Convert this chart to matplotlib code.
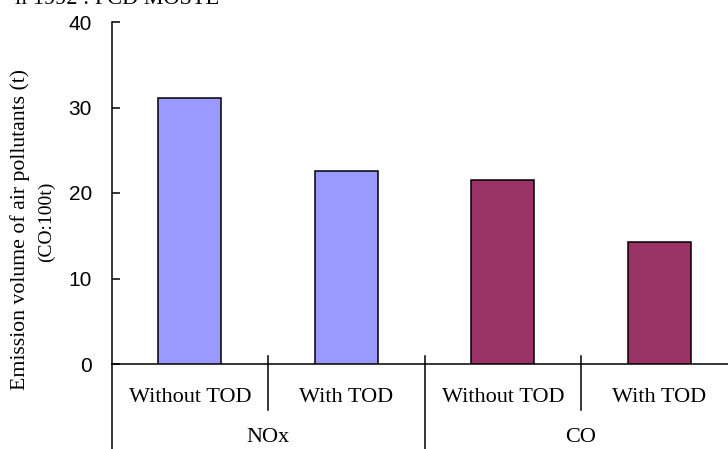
import matplotlib
matplotlib.use("Agg")
import matplotlib.pyplot as plt
import matplotlib.transforms as mtransforms

# data
groups = ["NOx", "CO"]
scenarios = ["Without TOD", "With TOD", "Without TOD", "With TOD"]
emissions = [31.1, 22.6, 21.5, 14.3]
bar_colors = ["#9999FF", "#9999FF", "#993366", "#993366"]
y_ticks = [0, 10, 20, 30, 40]

W, H = 728, 449
fig = plt.figure(figsize=(W / 100, H / 100), dpi=100)
fig.patch.set_facecolor("white")

# axes box in pixels (left spine, x axis, top of y range); the right end runs past the image
left_px, right_px, base_px, top_px = 111.5, 737.5, 364, 22
ax = fig.add_axes([left_px / W, (H - base_px) / H,
                   (right_px - left_px) / W, (base_px - top_px) / H])

x = list(range(len(scenarios)))
ax.bar(x, emissions, width=0.4, color=bar_colors, edgecolor="black", linewidth=1.1, zorder=3)

ax.set_xlim(-0.5, len(scenarios) - 0.5)
ax.set_ylim(0, 40)
ax.set_yticks(y_ticks)
ax.set_yticklabels([str(t) for t in y_ticks], fontfamily="Liberation Sans", fontsize=15)
ax.tick_params(axis="y", direction="in", length=6, width=1.1, pad=14)
ax.set_xticks([])

for s in ["top", "right"]:
    ax.spines[s].set_visible(False)
for s in ["left", "bottom"]:
    ax.spines[s].set_linewidth(1.1)

# category labels and dividers below the axis
trans = mtransforms.blended_transform_factory(ax.transData, ax.transAxes)
ah = base_px - top_px
def fy(px):
    return (base_px - px) / ah

for i, lab in enumerate(scenarios):
    ax.text(i, fy(397), lab, transform=trans, ha="center", va="center",
            fontfamily="Liberation Serif", fontsize=16)

n_per = len(scenarios) // len(groups)
for g, name in enumerate(groups):
    ax.text(g * n_per + (n_per - 1) / 2, fy(438), name, transform=trans,
            ha="center", va="center", fontfamily="Liberation Serif", fontsize=16)

for xd in [0.5, 2.5]:
    ax.plot([xd, xd], [fy(356), fy(410)], transform=trans, color="black",
            lw=1.1, clip_on=False)
ax.plot([1.5, 1.5], [fy(356), fy(452)], transform=trans, color="black", lw=1.1, clip_on=False)
ax.plot([-0.5, -0.5], [0, fy(452)], transform=trans, color="black", lw=1.1, clip_on=False)

# y label, two lines
fig.text(20 / W, 1 - 230 / H, "Emission volume of air pollutants (t)", rotation=90,
         ha="center", va="center", fontfamily="Liberation Serif", fontsize=15.7)
fig.text(46 / W, 1 - 222 / H, "(CO:100t)", rotation=90,
         ha="center", va="center", fontfamily="Liberation Serif", fontsize=14)

# source line cut off at the top of the image
fig.text(219 / W, 1 - 4 / H, "il 1992 : PCD MOSTE", ha="right", va="baseline",
         fontfamily="Liberation Serif", fontsize=16)

fig.savefig("out.png", dpi=100)
